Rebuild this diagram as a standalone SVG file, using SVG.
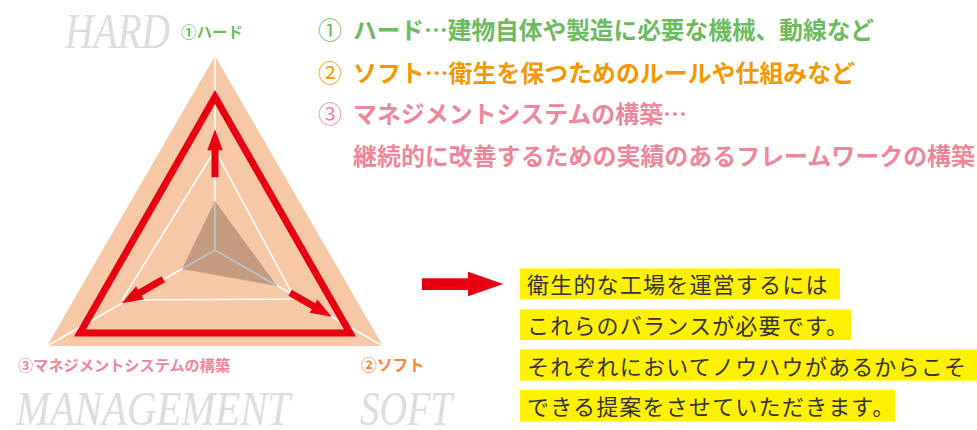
<svg xmlns="http://www.w3.org/2000/svg" xmlns:xlink="http://www.w3.org/1999/xlink" width="977" height="430" viewBox="0 0 977 430">
<style>
.en{font-family:"Liberation Serif",serif;font-style:italic;fill:#dddddd}
.jp{font-family:"Noto Sans CJK JP",sans-serif}
.b{font-weight:700}
.g{fill:#6cbb5e}
.o{fill:#f39800}
.o2{fill:#f0873a}
.p{fill:#ee8799}
.body{font-family:"Noto Sans CJK JP",sans-serif;font-size:22px;letter-spacing:1.2px;fill:#333333}
.hl{fill:#fff100}
.wl{stroke:#ffffff;stroke-width:1.5;fill:none}
.gl{stroke:#b5c5c9;stroke-width:1.8;fill:none}
.red{fill:#e60012}
</style>
<defs>
<path id="arr" d="M0,0 L-21,-7.7 L-21,-3.5 L-48,-3.5 L-48,3.5 L-21,3.5 L-21,7.7 Z"/>
</defs>

<g id="chart">
<polygon points="215,56 47,346 383,346" fill="#f7c8a5"/>
<polygon class="wl" points="215,150 122,300 295,299"/>
<line class="wl" x1="215" y1="56" x2="215" y2="250"/>
<line class="wl" x1="215" y1="250" x2="47" y2="346"/>
<line class="wl" x1="215" y1="250" x2="383" y2="346"/>
<polygon points="215,201 182,269 277,286" fill="#c49b7f"/>
<line class="gl" x1="215" y1="250" x2="215" y2="201"/>
<line class="gl" x1="215" y1="250" x2="182" y2="269"/>
<line class="gl" x1="215" y1="250" x2="277" y2="286"/>
<polygon points="215,97 80,333 350,333" fill="none" stroke="#e60012" stroke-width="7" stroke-linejoin="miter" stroke-miterlimit="10"/>
</g>

<g id="connectors">
<use xlink:href="#arr" class="red" transform="translate(215,129.3) rotate(-90)"/>
<use xlink:href="#arr" class="red" transform="translate(121.7,303.3) rotate(150)"/>
<use xlink:href="#arr" class="red" transform="translate(331.7,316.7) rotate(30)"/>
<polygon class="red" points="422,278.3 468,278.3 468,271.7 503.3,284 468,296.3 468,290 422,290"/>
</g>

<g id="axis-labels">
<text class="en" x="65" y="48" font-size="50" textLength="105" lengthAdjust="spacingAndGlyphs">HARD</text>
<text class="en" x="16" y="425" font-size="48" textLength="274" lengthAdjust="spacingAndGlyphs">MANAGEMENT</text>
<text class="en" x="360" y="425" font-size="48" textLength="92" lengthAdjust="spacingAndGlyphs">SOFT</text>
<text class="jp b g" x="181" y="38" font-size="15.5">①ハード</text>
<text class="jp b p" x="18" y="371" font-size="15.2">③マネジメントシステムの構築</text>
<text class="jp b o2" x="361" y="371" font-size="15.8">②ソフト</text>
</g>

<g id="legend">
<text class="jp g" x="318" y="39" font-size="24">①</text>
<text class="jp b g" x="353" y="39" font-size="24" textLength="521" lengthAdjust="spacingAndGlyphs">ハード…建物自体や製造に必要な機械、動線など</text>
<text class="jp o" x="318" y="81.5" font-size="24">②</text>
<text class="jp b o" x="353" y="81.5" font-size="24" textLength="502" lengthAdjust="spacingAndGlyphs">ソフト…衛生を保つためのルールや仕組みなど</text>
<text class="jp p" x="318" y="123" font-size="24">③</text>
<text class="jp b p" x="353" y="123" font-size="24" textLength="334" lengthAdjust="spacingAndGlyphs">マネジメントシステムの構築…</text>
<text class="jp b p" x="353" y="165" font-size="24" textLength="622" lengthAdjust="spacingAndGlyphs">継続的に改善するための実績のあるフレームワークの構築</text>
</g>

<g id="conclusion">
<rect class="hl" x="520" y="268.3" width="320" height="30.7"/>
<rect class="hl" x="520" y="309.3" width="331" height="30.7"/>
<rect class="hl" x="520" y="349.3" width="457" height="31.4"/>
<rect class="hl" x="520" y="390" width="375" height="31.7"/>
<text class="body" x="527" y="293">衛生的な工場を運営するには</text>
<text class="body" x="527" y="334">これらのバランスが必要です。</text>
<text class="body" x="527" y="374.5">それぞれにおいてノウハウがあるからこそ</text>
<text class="body" x="527" y="415">できる提案をさせていただきます。</text>
</g>
</svg>
